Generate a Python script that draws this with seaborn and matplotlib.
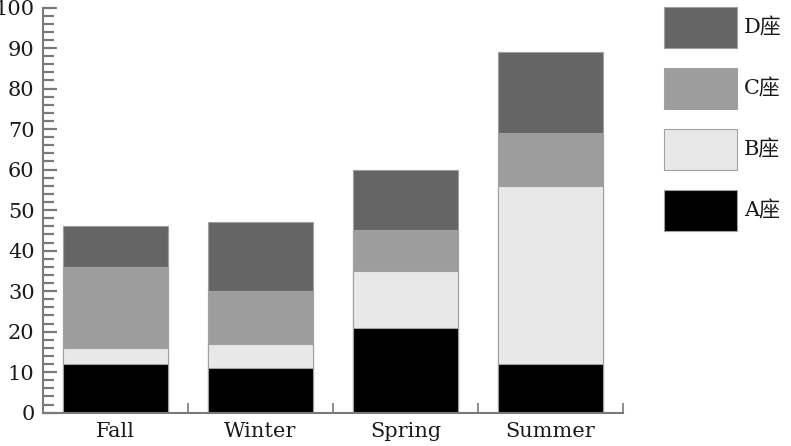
import matplotlib
matplotlib.use('Agg')
import matplotlib.pyplot as plt
import seaborn as sns
import pandas as pd
import numpy as np
from matplotlib.patches import Patch
from matplotlib.ticker import MultipleLocator, FixedLocator

# Data
seasons = ["Fall", "Winter", "Spring", "Summer"]
seat_a = [12, 11, 21, 12]
seat_b = [4, 6, 14, 44]
seat_c = [20, 13, 10, 13]
seat_d = [10, 17, 15, 20]
series_names = ["A座", "B座", "C座", "D座"]
series_colors = ["#000000", "#e8e8e8", "#9d9d9d", "#656565"]

sns.set_style("white")
plt.rcParams['font.family'] = ['DejaVu Serif', 'Noto Sans CJK SC']
axis_grey = "#7a7a7a"
text_col = "#1a1a1a"

df = pd.DataFrame({"season": seasons, "A": seat_a, "B": seat_b, "C": seat_c, "D": seat_d})
# cumulative totals so the tallest layer is drawn first
cum = df[["A", "B", "C", "D"]].cumsum(axis=1)

fig = plt.figure(figsize=(7.91, 4.46), dpi=100)
ax = fig.add_axes([43 / 791, 1 - 412.7 / 446, (623 - 43) / 791, (412.7 - 7.5) / 446])

for col, color in reversed(list(zip(["A", "B", "C", "D"], series_colors))):
    sns.barplot(x=df["season"], y=cum[col], color=color, width=0.72,
                edgecolor="#a0a0a0", linewidth=0.8, saturation=1, ax=ax)

ax.set_xlim(-0.5, 3.5)
ax.set_ylim(0, 100)
ax.set_xlabel("")
ax.set_ylabel("")

# spines
sns.despine(ax=ax)
for side in ["left", "bottom"]:
    ax.spines[side].set_color(axis_grey)
    ax.spines[side].set_linewidth(1.5)

# y ticks
ax.yaxis.set_major_locator(MultipleLocator(10))
ax.yaxis.set_minor_locator(MultipleLocator(2))
ax.tick_params(axis="y", which="major", direction="in", length=10, width=1.6,
               color=axis_grey, labelsize=15, pad=6, left=True)
ax.tick_params(axis="y", which="minor", direction="in", length=8, width=1.6,
               color=axis_grey, left=True)

# x ticks: labels at centres, small ticks at boundaries
ax.xaxis.set_minor_locator(FixedLocator([0.5, 1.5, 2.5, 3.5]))
ax.tick_params(axis="x", which="major", length=0, labelsize=15, pad=7)
ax.tick_params(axis="x", which="minor", direction="in", length=7, width=1.2,
               color=axis_grey, bottom=True)

for lbl in ax.get_xticklabels() + ax.get_yticklabels():
    lbl.set_color(text_col)

# legend
fs_px = 15 * 100 / 72
handles = [Patch(facecolor=c, edgecolor="#a0a0a0", linewidth=0.8, label=n)
           for n, c in zip(series_names, series_colors)]
hh = (41 / fs_px - 0.245) / 0.65
fig.legend(handles=handles[::-1], loc="upper left",
           bbox_to_anchor=(664 / 791, 1 - 7 / 446), frameon=False,
           fontsize=15, handlelength=73 / fs_px, handleheight=hh,
           labelspacing=20 / fs_px, handletextpad=0.35, borderpad=0,
           borderaxespad=0, labelcolor=text_col)

fig.savefig("out.png", dpi=100)
